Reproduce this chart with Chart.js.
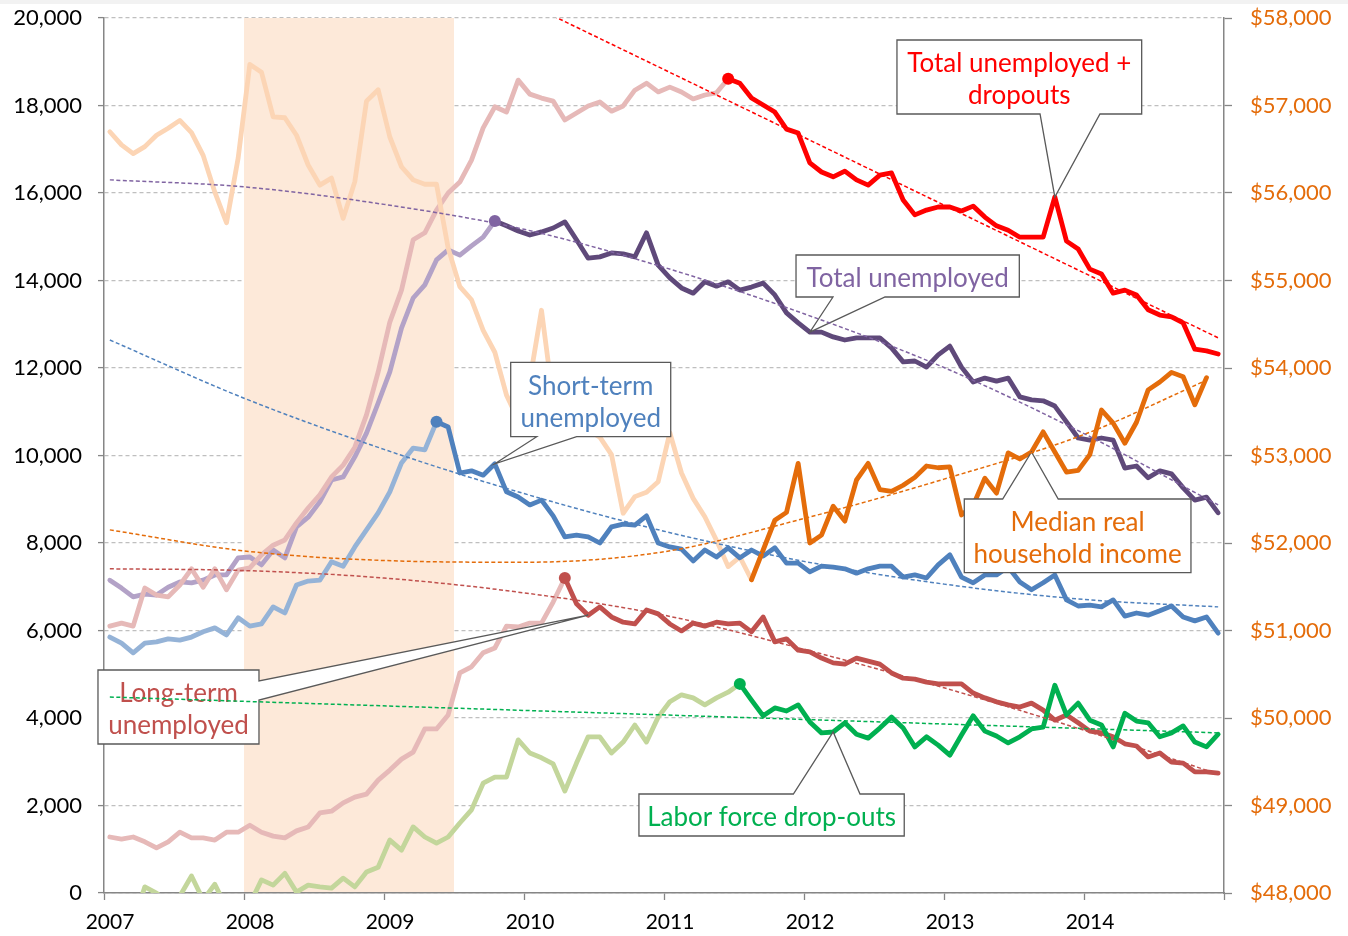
<!DOCTYPE html>
<html>
<head>
<meta charset="utf-8">
<script src="https://cdn.jsdelivr.net/npm/chart.js@4.4.1/dist/chart.umd.min.js"></script>
<style>
  html, body { margin: 0; padding: 0; background: #fff; }
  #topStrip { position: absolute; left: 0; top: 0; width: 1348px; height: 4px; background: #f2f2f2; }
  canvas { display: block; }
</style>
</head>
<body>
<div id="topStrip"></div>
<canvas id="chart" width="1348" height="936"></canvas>
<script>
// Monthly values, Jan 2007 - Dec 2014 (people in thousands, income in dollars)
const startYear = 2007;
const recession = [2008, 2009.5];

const totalPlusDropouts = [
  6100, 6170, 6100, 6970, 6810, 6770, 7040, 7410, 6990, 7410, 6930, 7380,
  7430, 7730, 7950, 8070, 8460, 8800, 9100, 9510, 9780, 10190, 10930, 11910,
  13050, 13780, 14930, 15090, 15610, 16000, 16250, 16750, 17490, 17970, 17850, 18580,
  18260, 18170, 18100, 17670, 17830, 17990, 18080, 17870, 17990, 18350, 18510, 18310,
  18420, 18310, 18150, 18240, 18290, 18610, 18510, 18170, 18010, 17850, 17460, 17370,
  16690, 16480, 16370, 16500, 16300, 16180, 16410, 16460, 15840, 15500, 15610, 15680,
  15680, 15590, 15700, 15450, 15250, 15150, 14990, 14990, 14990, 15910, 14900, 14720,
  14260, 14150, 13710, 13780, 13670, 13330, 13210, 13170, 13030, 12430, 12390, 12320
];
const totalUnemployed = [
  7150, 6970, 6770, 6830, 6810, 6990, 7110, 7090, 7150, 7270, 7270, 7660,
  7680, 7500, 7840, 7660, 8370, 8590, 8940, 9440, 9510, 9970, 10510, 11200,
  11910, 12910, 13600, 13900, 14470, 14700, 14580, 14790, 14990, 15360, 15250, 15130,
  15040, 15110, 15200, 15340, 14930, 14510, 14540, 14630, 14610, 14540, 15090, 14350,
  14060, 13830, 13710, 13970, 13870, 13970, 13780, 13850, 13940, 13670, 13260, 13030,
  12820, 12820, 12710, 12640, 12690, 12690, 12690, 12460, 12140, 12160, 12020, 12300,
  12500, 12020, 11680, 11770, 11700, 11770, 11340, 11270, 11250, 11130, 10770, 10400,
  10350, 10400, 10350, 9710, 9760, 9490, 9650, 9580, 9260, 8980, 9050, 8690
];
const shortTerm = [
  5850, 5710, 5490, 5710, 5740, 5810, 5780, 5850, 5970, 6060, 5900, 6290,
  6100, 6150, 6540, 6400, 7040, 7130, 7150, 7570, 7470, 7910, 8300, 8690,
  9170, 9830, 10170, 10130, 10770, 10650, 9600, 9650, 9550, 9810, 9170, 9050,
  8870, 8980, 8620, 8140, 8180, 8140, 8000, 8370, 8430, 8410, 8620, 8000,
  7910, 7860, 7590, 7840, 7680, 7890, 7660, 7840, 7700, 7890, 7540, 7540,
  7340, 7470, 7450, 7410, 7310, 7410, 7470, 7470, 7220, 7270, 7200, 7500,
  7730, 7220, 7090, 7270, 7270, 7450, 7110, 6930, 7090, 7270, 6700, 6560,
  6580, 6540, 6700, 6330, 6400, 6350, 6450, 6560, 6310, 6220, 6310, 5940
];
const longTerm = [
  1280, 1230, 1280, 1170, 1030, 1170, 1390, 1260, 1260, 1210, 1390, 1390,
  1550, 1390, 1300, 1260, 1420, 1510, 1830, 1870, 2060, 2190, 2260, 2580,
  2810, 3060, 3220, 3750, 3750, 4070, 5030, 5170, 5490, 5600, 6100, 6080,
  6170, 6170, 6650, 7200, 6610, 6350, 6540, 6310, 6190, 6150, 6470, 6380,
  6150, 5990, 6170, 6100, 6190, 6150, 6170, 5970, 6310, 5740, 5810, 5550,
  5510, 5370, 5260, 5230, 5370, 5300, 5230, 5030, 4910, 4890, 4820, 4780,
  4780, 4780, 4570, 4460, 4370, 4300, 4250, 4340, 4180, 3950, 4070, 3890,
  3700, 3660, 3570, 3410, 3360, 3110, 3200, 2990, 2970, 2770, 2770, 2740
];
const dropouts = [
  -1050, -800, -670, 140, 0, -220, -70, 390, -160, 200, -340, -280,
  -250, 300, 180, 450, 20, 180, 140, 110, 340, 140, 480, 590,
  1210, 980, 1510, 1280, 1140, 1280, 1600, 1900, 2510, 2650, 2650, 3500,
  3200, 3090, 2950, 2330, 2970, 3570, 3570, 3200, 3450, 3840, 3450, 4020,
  4370, 4530, 4460, 4300, 4460, 4590, 4780, 4410, 4050, 4230, 4160, 4300,
  3910, 3660, 3680, 3890, 3630, 3540, 3770, 4020, 3770, 3340, 3570, 3380,
  3150, 3610, 4050, 3700, 3590, 3430, 3570, 3750, 3790, 4750, 4070, 4340,
  3950, 3840, 3340, 4110, 3930, 3890, 3570, 3660, 3820, 3450, 3340, 3630
];
// median real household income (right axis), ends Nov 2014
const income = [
  56700, 56550, 56450, 56530, 56660, 56740, 56830, 56690, 56430, 56010, 55660, 56400,
  57470, 57380, 56870, 56860, 56660, 56320, 56090, 56170, 55710, 56130, 57050, 57180,
  56640, 56300, 56150, 56100, 56100, 55370, 54930, 54780, 54430, 54180, 53690, 53410,
  53860, 54660, 53630, 53520, 53410, 53290, 53210, 53010, 52340, 52530, 52580, 52700,
  53260, 52800, 52510, 52300, 52030, 51730, 51840, 51580, 51920, 52260, 52350, 52910,
  52000, 52090, 52420, 52250, 52720, 52910, 52610, 52590, 52660, 52750, 52880, 52860,
  52870, 52320, 52430, 52740, 52570, 53030, 52960, 53040, 53270, 53040, 52810, 52830,
  53010, 53520, 53370, 53140, 53380, 53750, 53840, 53950, 53900, 53580, 53890
];

// month index where each series turns from faded to solid
const highlightStart = { totalPlus: 53, total: 33, shortTerm: 28, longTerm: 39, dropouts: 54, income: 55 };

const trendYears = [2007.0417, 2008, 2009, 2010, 2011, 2012, 2013, 2014, 2014.9583];
const totalTrend = [16300, 16140, 15740, 15170, 14300, 13240, 12010, 10500, 8870];
const shortTrend = [12640, 11310, 10140, 9130, 8270, 7580, 7060, 6710, 6540];
const longTrend = [7410, 7370, 7200, 6860, 6350, 5570, 4690, 3720, 2720];
const incomeTrendYears = [2007.0417, 2008, 2009, 2010, 2011, 2012, 2013, 2014, 2014.875];
const incomeTrend = [52150, 51910, 51800, 51780, 51900, 52280, 52730, 53240, 53860];
const dropTrendYears = [2007.0417, 2014.9583];
const dropTrend = [4480, 3660];
const totalPlusTrendYears = [2010, 2014.9583];
const totalPlusTrend = [20370, 12690];

// x position of each month (middle of the month)
const monthX = totalUnemployed.map((_, i) => startYear + (i + 0.5) / 12);

function points(values, from, to) {
  const out = [];
  for (let i = from; i <= to && i < values.length; i++) out.push({ x: monthX[i], y: values[i] });
  return out;
}
function trendPoints(years, values) {
  return years.map((x, i) => ({ x: x, y: values[i] }));
}

function lineSet(data, color, axis, marker) {
  return {
    data: data,
    borderColor: color,
    backgroundColor: color,
    borderWidth: 4.8,
    borderJoinStyle: 'round',
    borderCapStyle: 'round',
    pointRadius: marker ? (c) => (c.dataIndex === 0 ? 6 : 0) : 0,
    pointBackgroundColor: marker || color,
    pointBorderWidth: 0,
    yAxisID: axis,
    fill: false,
    tension: 0
  };
}
function trendSet(data, color, axis) {
  return {
    data: data,
    borderColor: color,
    borderWidth: 1.5,
    borderDash: [4, 2.5],
    pointRadius: 0,
    yAxisID: axis,
    fill: false,
    cubicInterpolationMode: 'monotone'
  };
}

const hs = highlightStart;
const datasets = [
  // trend lines (drawn on top)
  trendSet(trendPoints(totalPlusTrendYears, totalPlusTrend), '#ff0000', 'y'),
  trendSet(trendPoints(trendYears, totalTrend), '#8064a2', 'y'),
  trendSet(trendPoints(trendYears, shortTrend), '#4f81bd', 'y'),
  trendSet(trendPoints(trendYears, longTrend), '#c0504d', 'y'),
  trendSet(trendPoints(dropTrendYears, dropTrend), '#00b050', 'y'),
  trendSet(trendPoints(incomeTrendYears, incomeTrend), '#e46c0a', 'y2'),
  // solid recent parts
  lineSet(points(income, hs.income, 95), '#e46c0a', 'y2', null),
  lineSet(points(dropouts, hs.dropouts, 95), '#00b050', 'y', '#00b050'),
  lineSet(points(totalPlusDropouts, hs.totalPlus, 95), '#ff0000', 'y', '#ff0000'),
  lineSet(points(totalUnemployed, hs.total, 95), '#5f497a', 'y', '#8064a2'),
  lineSet(points(shortTerm, hs.shortTerm, 95), '#4f81bd', 'y', '#4f81bd'),
  lineSet(points(longTerm, hs.longTerm, 95), '#c0504d', 'y', '#c0504d'),
  // faded early parts
  lineSet(points(income, 0, hs.income), '#fcd5b5', 'y2', null),
  lineSet(points(totalPlusDropouts, 0, hs.totalPlus), '#e6b9b8', 'y', null),
  lineSet(points(totalUnemployed, 0, hs.total), '#b3a2c7', 'y', null),
  lineSet(points(shortTerm, 0, hs.shortTerm), '#95b3d7', 'y', null),
  lineSet(points(longTerm, 0, hs.longTerm), '#e6b9b8', 'y', null),
  lineSet(points(dropouts, 0, hs.dropouts), '#c3d69b', 'y', null)
];
const lastSeriesIndex = 6; // boxes go right after this one, before the trends

// Callout boxes: box [x1, y1, x2, y2] in axis values, wedge base on one side
const callouts = [
  { lines: ['Total unemployed +', 'dropouts'], color: '#ff0000', box: [2012.664, 19497, 2014.412, 17806],
    side: 'bottom', base: [2013.686, 2014.114], tip: { values: totalPlusDropouts, i: 81, axis: 'y' } },
  { lines: ['Total unemployed'], color: '#8064a2', box: [2011.943, 14583, 2013.538, 13623],
    side: 'bottom', base: [2012.207, 2012.579], tip: { values: totalUnemployed, i: 60, axis: 'y' } },
  { lines: ['Short-term', 'unemployed'], color: '#4f81bd', box: [2009.905, 12130, 2011.048, 10430],
    side: 'bottom', base: [2010.091, 2010.376], tip: { values: shortTerm, i: 33, axis: 'y' } },
  { lines: ['Long-term', 'unemployed'], color: '#c0504d', box: [2006.957, 5097, 2008.107, 3406],
    side: 'right', base: [4846, 4411], tip: { values: longTerm, i: 41, axis: 'y' } },
  { lines: ['Median real', 'household income'], color: '#e46c0a', box: [2013.145, 9006, 2014.764, 7321],
    side: 'top', base: [2013.419, 2013.816], tip: { values: income, i: 79, axis: 'y2' } },
  { lines: ['Labor force drop-outs'], color: '#00b050', box: [2010.821, 2263, 2012.716, 1303],
    side: 'top', base: [2011.924, 2012.4], tip: { values: dropouts, i: 62, axis: 'y' } }
];

function drawCallout(chart, c) {
  const ctx = chart.ctx;
  const xs = chart.scales.x, ys = chart.scales.y;
  const l = xs.getPixelForValue(c.box[0]), r = xs.getPixelForValue(c.box[2]);
  const t = ys.getPixelForValue(c.box[1]), b = ys.getPixelForValue(c.box[3]);
  const tx = xs.getPixelForValue(monthX[c.tip.i]);
  const ty = chart.scales[c.tip.axis].getPixelForValue(c.tip.values[c.tip.i]);

  ctx.save();
  ctx.beginPath();
  ctx.moveTo(l, t);
  if (c.side === 'top') {
    ctx.lineTo(xs.getPixelForValue(c.base[0]), t);
    ctx.lineTo(tx, ty);
    ctx.lineTo(xs.getPixelForValue(c.base[1]), t);
  }
  ctx.lineTo(r, t);
  if (c.side === 'right') {
    ctx.lineTo(r, ys.getPixelForValue(c.base[0]));
    ctx.lineTo(tx, ty);
    ctx.lineTo(r, ys.getPixelForValue(c.base[1]));
  }
  ctx.lineTo(r, b);
  if (c.side === 'bottom') {
    ctx.lineTo(xs.getPixelForValue(c.base[1]), b);
    ctx.lineTo(tx, ty);
    ctx.lineTo(xs.getPixelForValue(c.base[0]), b);
  }
  ctx.lineTo(l, b);
  ctx.closePath();
  ctx.fillStyle = '#ffffff';
  ctx.fill();
  ctx.lineWidth = 1.3;
  ctx.strokeStyle = '#595959';
  ctx.stroke();

  ctx.fillStyle = c.color;
  ctx.font = '26px Lato';
  ctx.textAlign = 'center';
  ctx.textBaseline = 'middle';
  const cx = (l + r) / 2, cy = (t + b) / 2 + 3;
  c.lines.forEach((line, k) => {
    ctx.fillText(line, cx, cy + (k - (c.lines.length - 1) / 2) * 32);
  });
  ctx.restore();
}

const decorations = {
  id: 'decorations',
  beforeDatasetsDraw(chart) {
    const ctx = chart.ctx, area = chart.chartArea, xs = chart.scales.x;
    const x1 = xs.getPixelForValue(recession[0]), x2 = xs.getPixelForValue(recession[1]);
    ctx.save();
    ctx.fillStyle = '#fde9d9';
    ctx.fillRect(x1, area.top, x2 - x1, area.bottom - area.top - 1);
    ctx.restore();
  },
  afterDatasetDraw(chart, args) {
    if (args.index === lastSeriesIndex) callouts.forEach(c => drawCallout(chart, c));
  }
};

// fixed axis sizes so the plot area lands where the original has it
function fixWidth(w) {
  return (scale) => {
    scale.width = w;
    scale.paddingTop = 0;
    scale.paddingBottom = 0;
  };
}

Chart.defaults.font.family = 'Lato';
Chart.defaults.font.size = 22;

new Chart(document.getElementById('chart'), {
  type: 'line',
  data: { datasets: datasets },
  options: {
    responsive: false,
    animation: false,
    events: [],
    layout: { padding: { top: 18, left: 0, right: 0, bottom: 0 } },
    plugins: { legend: { display: false }, tooltip: { enabled: false } },
    scales: {
      x: {
        type: 'linear',
        min: 2007,
        max: 2015,
        afterFit: (scale) => { scale.height = 43; },
        ticks: {
          stepSize: 1,
          autoSkip: false,
          maxRotation: 0,
          color: '#000',
          padding: 10,
          labelOffset: 6,
          font: { size: 21 },
          callback: (v) => (v < 2015 ? String(v) : '')
        },
        grid: { drawOnChartArea: false, drawTicks: true, tickLength: 7, tickColor: '#868686', tickWidth: 1.3 },
        border: { color: '#868686', width: 1.5 }
      },
      y: {
        position: 'left',
        min: 0,
        max: 20000,
        afterFit: fixWidth(104),
        ticks: {
          stepSize: 2000,
          color: '#000',
          padding: 16,
          callback: (v) => v.toLocaleString('en-US')
        },
        grid: { color: '#bfbfbf', lineWidth: 1.2, tickLength: 6, tickColor: '#868686', tickWidth: 1.3, tickBorderDash: [] },
        border: { color: '#868686', width: 1.5, dash: [4, 3] }
      },
      y2: {
        position: 'right',
        min: 48000,
        max: 58000,
        afterFit: fixWidth(124),
        ticks: {
          stepSize: 1000,
          color: '#e46c0a',
          padding: 18,
          callback: (v) => '$' + v.toLocaleString('en-US')
        },
        grid: { drawOnChartArea: false, tickLength: 8, tickColor: '#868686', tickWidth: 1.3 },
        border: { color: '#868686', width: 1.5 }
      }
    }
  },
  plugins: [decorations]
});
</script>
</body>
</html>
